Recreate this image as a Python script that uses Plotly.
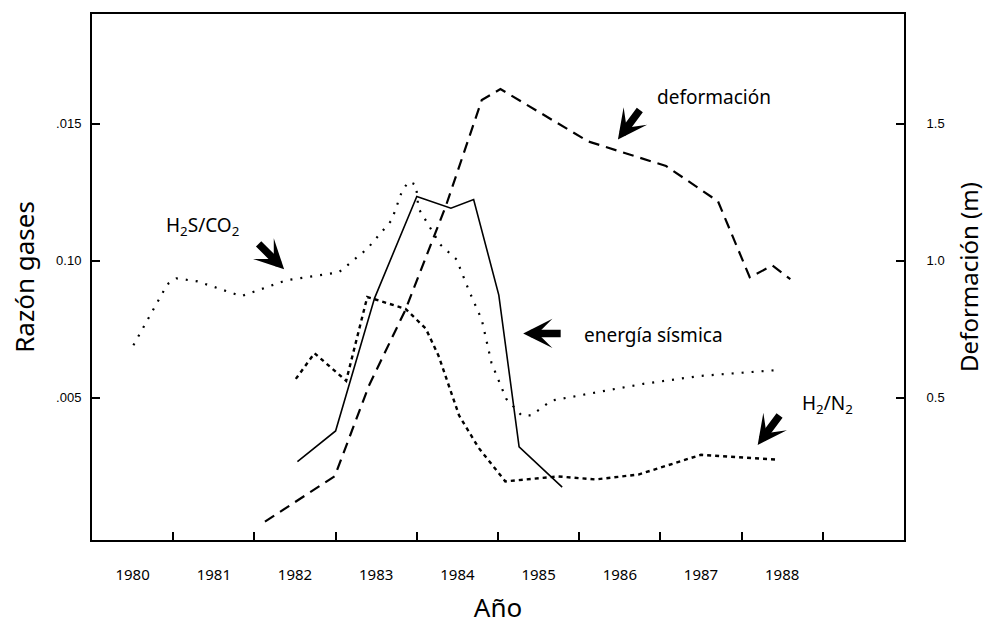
import plotly.graph_objects as go

# ---------------- data ----------------
years_labels = ["1980", "1981", "1982", "1983", "1984", "1985", "1986", "1987", "1988"]

# Deformación (m) — right axis
def_x = [1982.13, 1982.99, 1983.41, 1983.86, 1984.36, 1984.80, 1985.03, 1986.11, 1987.07, 1987.71, 1988.10, 1988.38, 1988.60]
def_y = [0.047, 0.213, 0.543, 0.820, 1.201, 1.586, 1.626, 1.435, 1.345, 1.216, 0.939, 0.982, 0.932]

# Energía sísmica — left axis scale
en_x = [1982.53, 1983.00, 1983.48, 1984.00, 1984.42, 1984.70, 1985.01, 1985.26, 1985.79]
en_y = [0.00266, 0.00378, 0.00863, 0.01234, 0.01191, 0.01223, 0.00874, 0.00320, 0.00173]

# H2S/CO2 — left axis
hs_x = [1980.51, 1980.93, 1981.04, 1981.30, 1981.84, 1982.39, 1983.04, 1983.39, 1983.69, 1983.82,
        1983.90, 1983.99, 1984.02, 1984.29, 1984.49, 1984.64, 1984.80, 1984.92, 1985.10, 1985.29,
        1985.41, 1985.66, 1986.27, 1986.79, 1987.49, 1988.47]
hs_y = [0.00691, 0.00914, 0.00935, 0.00924, 0.00870, 0.00928, 0.00957, 0.01043, 0.01147, 0.01255,
        0.01288, 0.01277, 0.01191, 0.01058, 0.01004, 0.00892, 0.00784, 0.00626, 0.00496, 0.00435,
        0.00435, 0.00489, 0.00522, 0.00550, 0.00579, 0.00601]

# H2/N2 — left axis
hn_x = [1982.51, 1982.74, 1983.13, 1983.39, 1983.86, 1984.11, 1984.27, 1984.52, 1984.76, 1985.09,
        1985.74, 1986.20, 1986.73, 1987.50, 1988.45]
hn_y = [0.00568, 0.00662, 0.00561, 0.00867, 0.00824, 0.00752, 0.00651, 0.00435, 0.00317, 0.00194,
        0.00212, 0.00201, 0.00219, 0.00291, 0.00273]

left_tickvals = [0.005, 0.010, 0.015]
left_ticktext = [".005", "0.10", ".015"]
right_tickvals = [0.5, 1.0, 1.5]
right_ticktext = ["0.5", "1.0", "1.5"]

FONT = "Noto Sans"

fig = go.Figure()
fig.add_trace(go.Scatter(x=hs_x, y=hs_y, mode="lines", name="H2S/CO2",
                         line=dict(color="black", width=2.2, dash="2px,8px")))
fig.add_trace(go.Scatter(x=hn_x, y=hn_y, mode="lines", name="H2/N2",
                         line=dict(color="black", width=2.4, dash="4px,4px")))
fig.add_trace(go.Scatter(x=en_x, y=en_y, mode="lines", name="energía sísmica",
                         line=dict(color="black", width=1.6)))
fig.add_trace(go.Scatter(x=def_x, y=def_y, mode="lines", name="deformación", yaxis="y2",
                         line=dict(color="black", width=2.2, dash="11px,7px")))

annos = []
# arrows (tip at x,y; tail offset ax,ay in pixels)
for (ax_, ay_, tx, ty) in [(23, -31, 1986.477, 0.01442),
                           (39, 0, 1985.31, 0.00734),
                           (-27, -27, 1982.366, 0.00968),
                           (23, -31, 1988.198, 0.00327)]:
    annos.append(dict(x=tx, y=ty, xref="x", yref="y", ax=ax_, ay=ay_, text="",
                      showarrow=True, arrowhead=3, arrowsize=0.65, arrowwidth=7.5,
                      arrowcolor="black", standoff=0))
# labels
annos += [
    dict(x=1987.66, y=0.01597, xref="x", yref="y", text="deformación", showarrow=False,
         font=dict(family=FONT, size=19, color="black")),
    dict(x=1986.91, y=0.0073, xref="x", yref="y", text="energía sísmica", showarrow=False,
         font=dict(family=FONT, size=19, color="black")),
    dict(x=1981.36, y=0.01126, xref="x", yref="y", text="H<sub>2</sub>S/CO<sub>2</sub>", showarrow=False,
         font=dict(family=FONT, size=19, color="black")),
    dict(x=1989.06, y=0.00478, xref="x", yref="y", text="H<sub>2</sub>/N<sub>2</sub>", showarrow=False,
         font=dict(family=FONT, size=19, color="black")),
]

fig.update_layout(
    width=991, height=630,
    margin=dict(l=92, r=84, t=13, b=83),
    paper_bgcolor="white", plot_bgcolor="white",
    showlegend=False,
    annotations=annos,
    xaxis=dict(range=[1980, 1990], tickmode="array",
               tickvals=[1980.5 + i for i in range(len(years_labels))], ticktext=years_labels,
               ticks="", showgrid=False, zeroline=False,
               showline=True, linecolor="black", linewidth=2, mirror=True,
               tickfont=dict(family=FONT, size=15, color="black"),
               ticklabelstandoff=20,
               minor=dict(tickmode="array", tickvals=list(range(1981, 1990)),
                          ticks="inside", ticklen=8, tickwidth=2, tickcolor="black", showgrid=False),
               title=dict(text="Año", font=dict(family=FONT, size=26, color="black"), standoff=16)),
    yaxis=dict(range=[-0.0002, 0.0190], tickmode="array", tickvals=left_tickvals, ticktext=left_ticktext,
               ticks="inside", ticklen=8, tickwidth=2, tickcolor="black",
               showgrid=False, zeroline=False, showline=True, linecolor="black", linewidth=2,
               tickfont=dict(family="Liberation Sans", size=13, color="black"),
               ticklabelstandoff=6,
               title=dict(text="Razón gases", font=dict(family=FONT, size=26, color="black"), standoff=14)),
    yaxis2=dict(range=[-0.02, 1.90], overlaying="y", side="right", tickmode="array",
                tickvals=right_tickvals, ticktext=right_ticktext,
                ticks="inside", ticklen=8, tickwidth=2, tickcolor="black",
                showgrid=False, zeroline=False, showline=True, linecolor="black", linewidth=2,
                tickfont=dict(family="Liberation Sans", size=13, color="black"),
                ticklabelstandoff=18,
                title=dict(text="Deformación (m)", font=dict(family=FONT, size=24, color="black"), standoff=18)),
)

fig.write_html("out.html")
